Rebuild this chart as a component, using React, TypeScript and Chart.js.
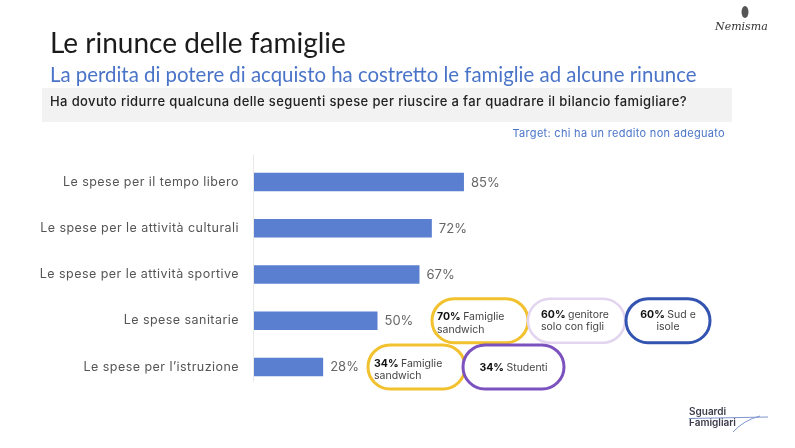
import { useEffect, useRef } from "react";
import { Chart, registerables } from "chart.js";

Chart.register(...registerables);

const title = "Le rinunce delle famiglie";
const subtitle = "La perdita di potere di acquisto ha costretto le famiglie ad alcune rinunce";
const question = "Ha dovuto ridurre qualcuna delle seguenti spese per riuscire a far quadrare il bilancio famigliare?";
const target = "Target: chi ha un reddito non adeguato";

const categories = [
  "Le spese per il tempo libero",
  "Le spese per le attività culturali",
  "Le spese per le attività sportive",
  "Le spese sanitarie",
  "Le spese per l’istruzione",
];
const values = [85, 72, 67, 50, 28];

// callouts (segment highlights)
const calloutRow = [3, 3, 3, 4, 4];
const calloutPct = ["70%", "60%", "60%", "34%", "34%"];
const calloutText = [
  ["Famiglie", "sandwich"],
  ["genitore", "solo con figli"],
  ["Sud e", "isole"],
  ["Famiglie", "sandwich"],
  ["Studenti"],
];

// layout / style of callouts (not data)
const calloutBox = [
  { x: 432, w: 96, align: "left", pad: 5, dy: -4, color: "#f2c12e", lw: 3 },
  { x: 528, w: 97, align: "left", pad: 13, dy: -6.5, color: "#e3d5ef", lw: 2.5 },
  { x: 626, w: 84, align: "center", pad: 0, dy: -6.5, color: "#3253b0", lw: 3 },
  { x: 368, w: 97, align: "left", pad: 6, dy: -4, color: "#f2c12e", lw: 3 },
  { x: 463, w: 101, align: "center", pad: 0, dy: 0, color: "#7c52bf", lw: 3 },
];

export default function App() {
  const ref = useRef<HTMLCanvasElement>(null);

  useEffect(() => {
    const canvas = ref.current!;
    const overlay = {
      id: "overlay",
      afterDraw(chart: any) {
        const ctx: any = chart.ctx;
        const ys = chart.scales.y;
        const xs = chart.scales.x;
        const area = chart.chartArea;
        ctx.save();

        // title
        ctx.textAlign = "left";
        ctx.textBaseline = "alphabetic";
        ctx.fillStyle = "#1b1b1b";
        ctx.font = "28px Lato";
        ctx.fillText(title, 50, 53);
        ctx.fillStyle = "#4a74c8";
        ctx.font = "20.4px Lato";
        ctx.fillText(subtitle, 50, 81.5);

        // question band
        ctx.fillStyle = "#f2f2f2";
        ctx.fillRect(42, 88, 690, 34);
        ctx.fillStyle = "#222";
        ctx.font = "500 13px Inter";
        ctx.letterSpacing = "0.38px";
        ctx.fillText(question, 50, 105.5);

        ctx.textAlign = "right";
        ctx.fillStyle = "#4a74c8";
        ctx.font = "11px Inter";
        ctx.letterSpacing = "0.3px";
        ctx.fillText(target, 725, 137);

        // axis line
        ctx.letterSpacing = "0px";
        ctx.strokeStyle = "#e8e8e8";
        ctx.lineWidth = 1;
        ctx.beginPath();
        ctx.moveTo(area.left - 0.5, area.top - 4);
        ctx.lineTo(area.left - 0.5, area.bottom - 8);
        ctx.stroke();

        // category labels & values
        categories.forEach((c, i) => {
          const y = ys.getPixelForValue(i);
          ctx.textBaseline = "middle";
          ctx.textAlign = "right";
          ctx.fillStyle = "#555";
          ctx.font = "12.5px Inter";
          ctx.letterSpacing = "0.45px";
          ctx.fillText(c, 239, y);
          ctx.letterSpacing = "0px";
          ctx.textAlign = "left";
          ctx.fillStyle = "#666";
          ctx.font = "13px Inter";
          ctx.fillText(values[i] + "%", xs.getPixelForValue(values[i]) + 7, y + 0.5);
        });

        // callouts
        calloutPct.forEach((pct, k) => {
          const b = calloutBox[k];
          const cy = ys.getPixelForValue(calloutRow[k]);
          const h = 44;
          ctx.beginPath();
          ctx.roundRect(b.x, cy - h / 2, b.w, h, h / 2);
          ctx.fillStyle = "#ffffff";
          ctx.fill();
          ctx.strokeStyle = b.color;
          ctx.lineWidth = b.lw;
          ctx.stroke();
          const lines = calloutText[k];
          ctx.textBaseline = "alphabetic";
          ctx.textAlign = "left";
          lines.forEach((ln, j) => {
            const base = cy + b.dy + j * 12.5 + 3.6;
            if (j === 0) {
              ctx.font = "bold 10.5px Inter";
              const pw = ctx.measureText(pct + " ").width;
              ctx.font = "10.5px Inter";
              const tw = ctx.measureText(ln).width;
              const x0 = b.align === "center" ? b.x + b.w / 2 - (pw + tw) / 2 : b.x + b.pad;
              ctx.fillStyle = "#111";
              ctx.font = "bold 10.5px Inter";
              ctx.fillText(pct + " ", x0, base);
              ctx.fillStyle = "#444";
              ctx.font = "10.5px Inter";
              ctx.fillText(ln, x0 + pw, base);
            } else {
              ctx.font = "10.5px Inter";
              ctx.fillStyle = "#444";
              const tw = ctx.measureText(ln).width;
              const x0 = b.align === "center" ? b.x + b.w / 2 - tw / 2 : b.x + b.pad;
              ctx.fillText(ln, x0, base);
            }
          });
        });

        // Nemisma logo
        ctx.fillStyle = "#555";
        ctx.beginPath();
        ctx.ellipse(745, 12, 3.5, 6, 0, 0, Math.PI * 2);
        ctx.fill();
        ctx.fillStyle = "#333";
        ctx.font = "italic 11px 'DejaVu Serif'";
        ctx.textAlign = "left";
        ctx.textBaseline = "alphabetic";
        ctx.fillText("Nemisma", 715, 30);

        // Sguardi Famigliari logo
        ctx.fillStyle = "#3a3a4a";
        ctx.font = "600 10px Inter";
        ctx.fillText("Sguardi", 689, 415);
        ctx.fillText("Famigliari", 689, 426);
        ctx.strokeStyle = "#7d95cc";
        ctx.lineWidth = 1;
        ctx.beginPath();
        ctx.moveTo(689, 418.5);
        ctx.lineTo(768, 417);
        ctx.stroke();
        ctx.beginPath();
        ctx.moveTo(733, 432);
        ctx.quadraticCurveTo(744, 420, 760, 416);
        ctx.stroke();

        ctx.restore();
      },
    };

    const chart = new Chart(canvas, {
      type: "bar",
      data: {
        labels: categories,
        datasets: [
          {
            data: values,
            backgroundColor: "#5a7fd0",
            barPercentage: 0.4,
            categoryPercentage: 1,
          },
        ],
      },
      options: {
        indexAxis: "y",
        responsive: false,
        animation: false,
        devicePixelRatio: 1,
        layout: { padding: { left: 254, right: 294, top: 159, bottom: 58 } },
        scales: {
          x: { display: false, min: 0, max: 100 },
          y: { display: false },
        },
        plugins: { legend: { display: false }, tooltip: { enabled: false } },
      },
      plugins: [overlay],
    });
    return () => chart.destroy();
  }, []);

  return (
    <div style={{ position: "fixed", left: 0, top: 0, width: 795, height: 448, background: "#fff" }}>
      <canvas ref={ref} width={795} height={448} style={{ display: "block", width: 795, height: 448 }} />
    </div>
  );
}
